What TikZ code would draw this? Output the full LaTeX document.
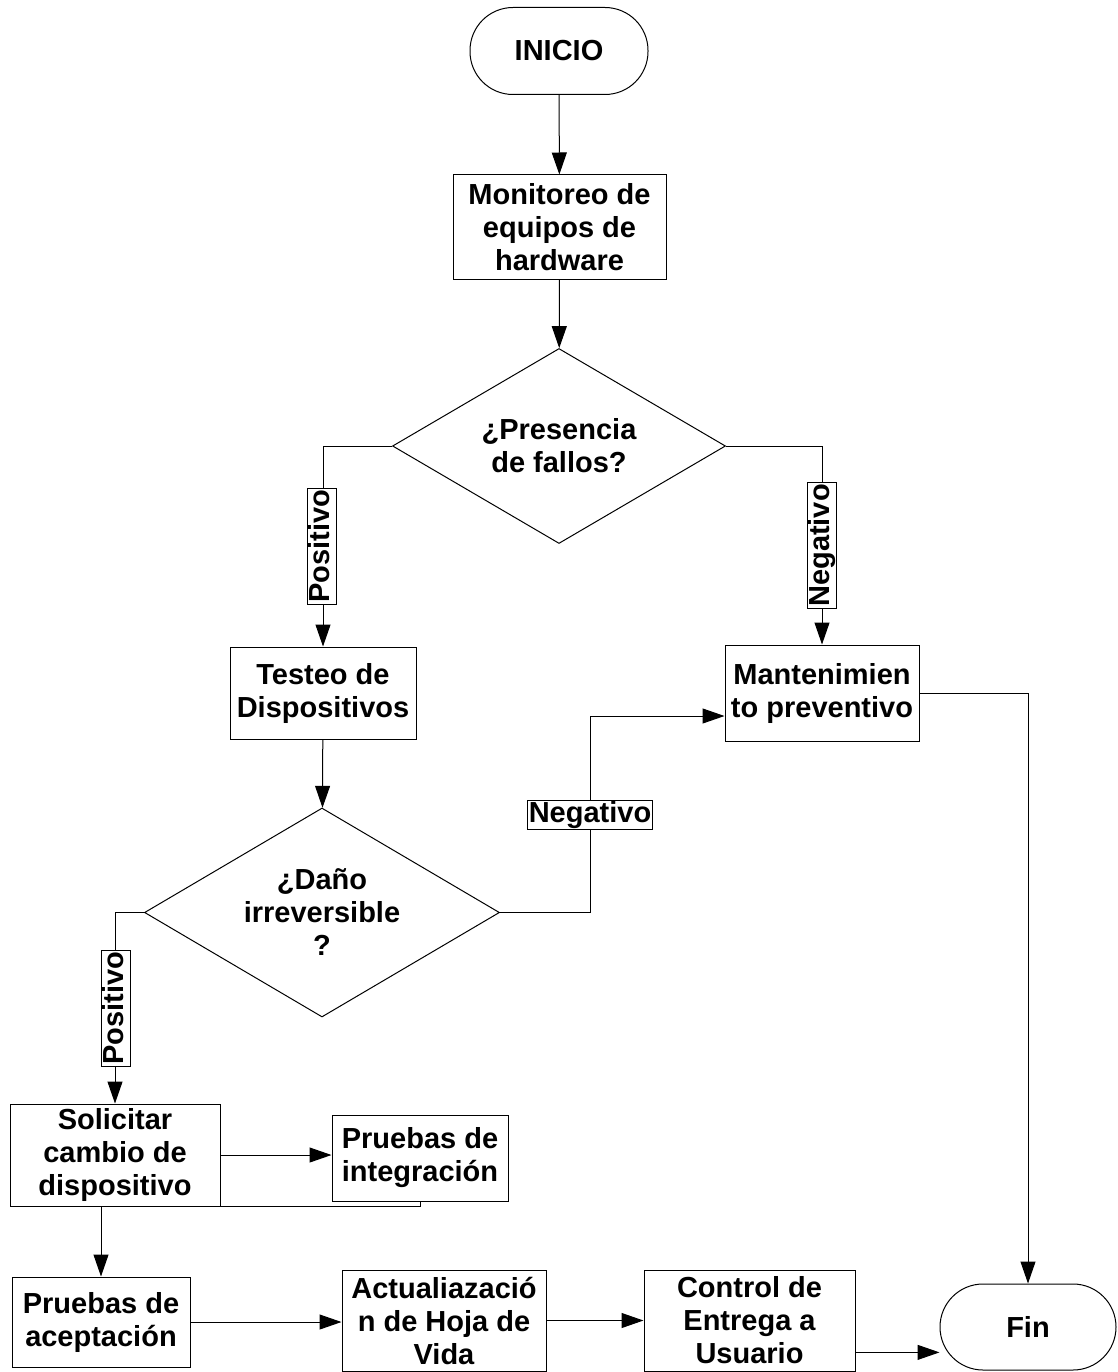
\documentclass[tikz,border=0pt]{standalone}
\usepackage{fontspec}
\setmainfont{Liberation Sans}
\usetikzlibrary{arrows.meta,shapes.geometric}
\begin{document}
\begin{tikzpicture}[x=1pt,y=-1pt,
 every node/.style={font=\fontsize{29}{33}\selectfont\bfseries, text=black},
 box/.style={draw, line width=1pt, align=center, inner sep=0pt},
 term/.style={draw, line width=1pt, rounded corners=43pt, inner sep=0pt},
 dec/.style={draw, diamond, aspect=1.7, inner sep=0pt, align=center, line width=1pt},
 lab/.style={draw, fill=white, inner xsep=1.5pt, inner ysep=0pt, text height=22pt, text depth=7pt, line width=0.8pt},
 arr/.style={line width=1pt, -{Triangle[length=22pt,width=15pt]}},
 con/.style={line width=1pt}]
\useasboundingbox (0,0) rectangle (1117,1372);

\node[term, minimum width=178pt, minimum height=87pt] (ini) at (559,51) {INICIO};
\node[box, minimum width=213pt, minimum height=104pt] (mon) at (559.5,227) {Monitoreo de\\equipos de\\hardware};
\node[dec, minimum width=333pt, minimum height=195pt] (d1) at (559,446) {¿Presencia\\de fallos?};
\node[box, minimum width=186pt, minimum height=92pt] (tes) at (323,693) {Testeo de\\Dispositivos};
\node[box, minimum width=194pt, minimum height=96pt] (man) at (822,693) {Mantenimien\\to preventivo};
\node[dec, minimum width=355pt, minimum height=209pt] (d2) at (322,912.5) {¿Daño\\irreversible\\?};
\node[box, minimum width=210pt, minimum height=102pt] (sol) at (115,1155) {Solicitar\\cambio de\\dispositivo};
\node[box, minimum width=176pt, minimum height=86pt] (int) at (420,1158) {Pruebas de\\integración};
\node[box, minimum width=178pt, minimum height=90pt] (ace) at (101,1322) {Pruebas de\\aceptación};
\node[box, minimum width=204pt, minimum height=101pt] (act) at (444,1320.5) {Actualiazació\\n de Hoja de\\Vida};
\node[box, minimum width=211pt, minimum height=101pt] (ctl) at (749.5,1320.5) {Control de\\Entrega a\\Usuario};
\node[term, minimum width=176pt, minimum height=86pt] (fin) at (1028,1327) {Fin};

\draw[arr] (ini) -- (mon);
\draw[arr] (mon) -- (d1);
\draw[arr] (d1.west) -| (tes.north);
\draw[arr] (d1.east) -| (man.north);
\draw[arr] (tes) -- (d2);
\draw[arr] (d2.west) -| (sol.north);
\draw[arr] (d2.east) -- ++(90,0) |- ([yshift=-23pt]man.west);
\draw[arr] (man.east) -| (fin.north);
\draw[arr] (sol.east) -- (sol.east -| int.west);
\draw[con] (int.south) |- (sol.south east);
\draw[arr] (ace.north |- sol.south) -- (ace.north);
\draw[arr] (ace.east) -- (ace.east -| act.west);
\draw[arr] (act.east) -- (act.east -| ctl.west);
\draw[arr] (ctl.east |- fin.196) -- (fin.196);

\node[lab, rotate=90] (p1) at (322,546.5) {Positivo};
\node[lab, rotate=90] (n1) at (822,545.5) {Negativo};
\node[lab] (n2) at (590,815) {Negativo};
\node[lab, rotate=90] (p2) at (116,1008) {Positivo};
\end{tikzpicture}
\end{document}
